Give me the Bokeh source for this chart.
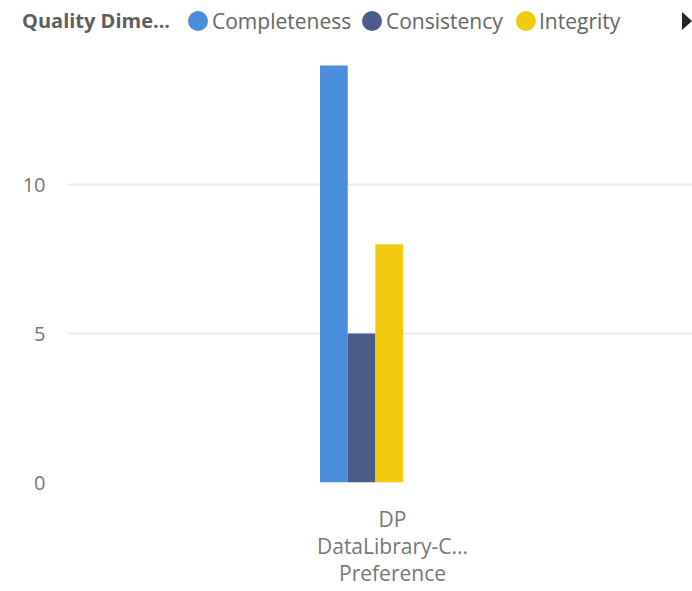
from bokeh.plotting import figure
from bokeh.models import Range1d, FixedTicker, Div
from bokeh.layouts import column
from bokeh.embed import file_html
from bokeh.resources import INLINE

# ---- data ----
legend_title = "Quality Dime..."
categories = ["DP\nDataLibrary-C...\nPreference"]
series_names = ["Completeness", "Consistency", "Integrity"]
series_colors = ["#4A8DDC", "#4C5C8A", "#F3C911"]
completeness = [14]
consistency = [5]
integrity = [8]
series_values = [completeness, consistency, integrity]
y_ticks = [0, 5, 10]

# ---- layout constants ----
W = 692
HEAD_H = 44
H = 591 - HEAD_H
FONT = "Open Sans"
n_slots = 5            # legend is truncated: group holds 5 slots
slot_w = 0.0426        # fraction of a category width
group_shift = -0.005
visible_frac = 625 / 650

p = figure(width=W, height=H, output_backend="svg", toolbar_location=None,
           x_range=Range1d(0, visible_frac), y_range=Range1d(0, 14.5),
           min_border_left=67, min_border_right=0, min_border_top=6,
           min_border_bottom=109)
p.outline_line_color = None
p.background_fill_color = "white"
p.border_fill_color = "white"

for k, (name, color, vals) in enumerate(zip(series_names, series_colors, series_values)):
    xs = [i + 0.5 + group_shift + (k - (n_slots - 1) / 2) * slot_w for i in range(len(categories))]
    p.vbar(x=xs, top=vals, width=slot_w, bottom=0, fill_color=color, line_color=None)

# y axis
p.yaxis.ticker = FixedTicker(ticks=y_ticks)
p.yaxis.axis_line_color = None
p.yaxis.major_tick_line_color = None
p.yaxis.minor_tick_line_color = None
p.yaxis.major_tick_out = 0
p.yaxis.major_label_standoff = 22
p.yaxis.major_label_text_font = FONT
p.yaxis.major_label_text_font_size = "20px"
p.yaxis.major_label_text_color = "#777777"

# x axis
p.xaxis.ticker = FixedTicker(ticks=[i + 0.5 for i in range(len(categories))])
p.xaxis.major_label_overrides = {i + 0.5: c for i, c in enumerate(categories)}
p.xaxis.axis_line_color = None
p.xaxis.major_tick_line_color = None
p.xaxis.minor_tick_line_color = None
p.xaxis.major_tick_out = 0
p.xaxis.major_label_standoff = 22
p.xaxis.major_label_text_font = FONT
p.xaxis.major_label_text_font_size = "21px"
p.xaxis.major_label_text_color = "#777777"
p.xaxis.major_label_text_line_height = 0.98

p.xgrid.grid_line_color = None
p.ygrid.grid_line_color = "#ebebeb"
p.ygrid.grid_line_width = 2

# legend header (HTML)
lefts = [(188, 212), (362, 386), (516, 539)]
items = []
for (cl, tl), name, color in zip(lefts, series_names, series_colors):
    items.append(
        f'<span style="position:absolute;left:{cl}px;top:11px;width:20px;height:20px;'
        f'border-radius:50%;background:{color};"></span>'
        f'<span style="position:absolute;left:{tl}px;top:8px;line-height:26px;">{name}</span>'
    )
html = (
    f'<div style="position:relative;width:{W}px;height:{HEAD_H}px;font-family:\'{FONT}\';'
    f'font-size:21px;color:#666666;white-space:nowrap;">'
    f'<span style="position:absolute;left:22px;top:8px;line-height:26px;font-size:20px;font-weight:bold;color:#605E5C;">{legend_title}</span>'
    + "".join(items) +
    f'<span style="position:absolute;left:682px;top:12px;width:0;height:0;'
    f'border-top:9px solid transparent;border-bottom:9px solid transparent;'
    f'border-left:10px solid #252423;"></span>'
    '</div>'
)
header = Div(text=html, width=W, height=HEAD_H, margin=(0, 0, 0, 0))

layout = column(header, p, spacing=0)
open("out.html", "w").write(file_html(layout, INLINE))
